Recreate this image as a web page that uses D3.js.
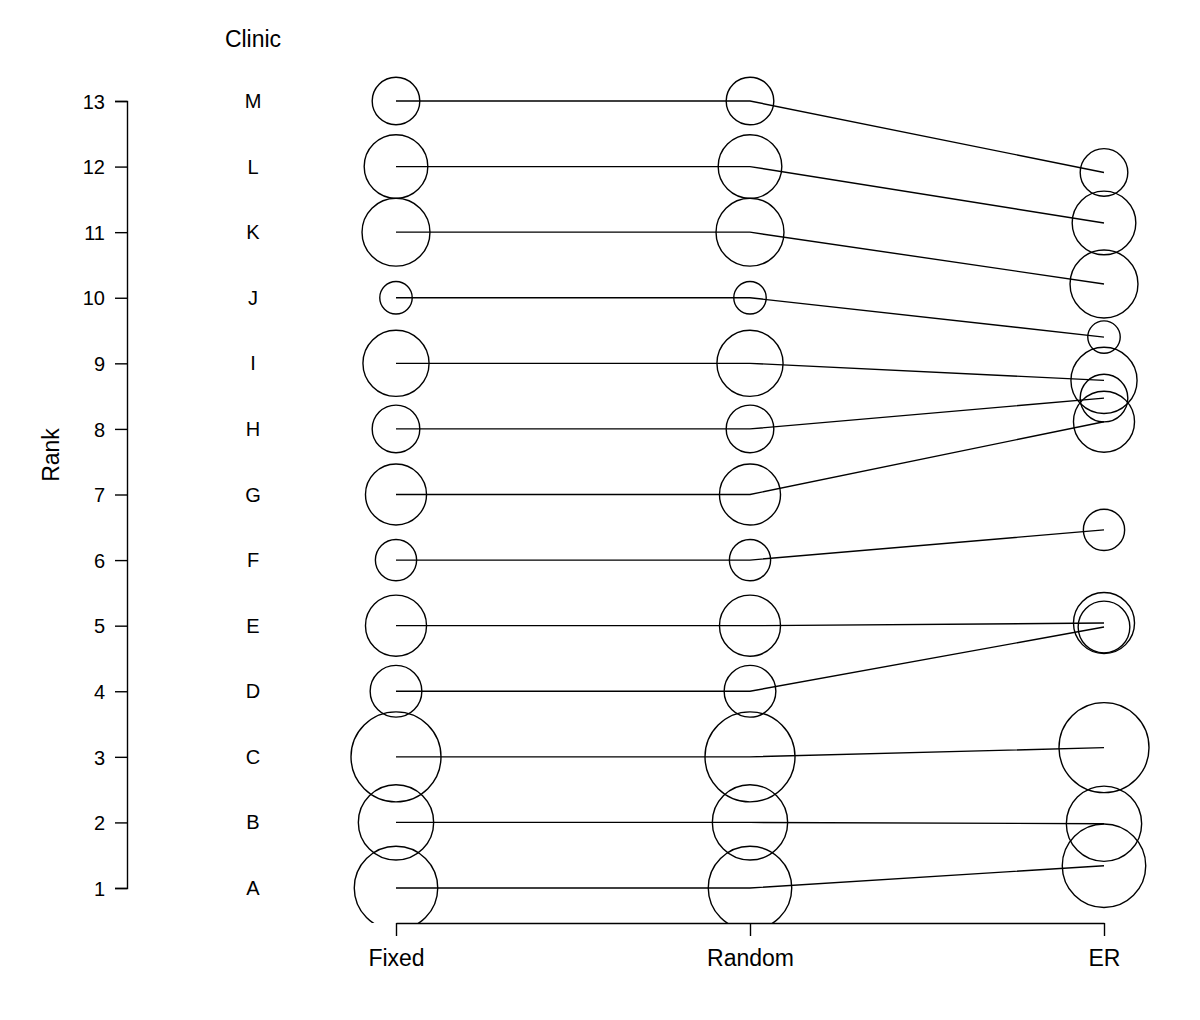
<!DOCTYPE html>
<html>
<head>
<meta charset="utf-8">
<script src="https://cdn.jsdelivr.net/npm/d3@7"></script>
<style>
  body { margin: 0; background: #fff; }
  text { font-family: "Liberation Sans", Arial, sans-serif; fill: #000; }
</style>
</head>
<body>
<div id="chart"></div>
<script>
// data
const clinics = ["A", "B", "C", "D", "E", "F", "G", "H", "I", "J", "K", "L", "M"]
const fixedRank = [1, 2, 3, 4, 5, 6, 7, 8, 9, 10, 11, 12, 13]
const randomRank = [1, 2, 3, 4, 5, 6, 7, 8, 9, 10, 11, 12, 13]
const erRank = [1.34, 1.98, 3.14, 4.98, 5.04, 6.46, 8.11, 8.47, 8.74, 9.40, 10.21, 11.14, 11.91]
const weight = [86, 70, 100, 33, 46, 21, 46, 28, 54, 13, 57, 50, 28]
const methods = ["Fixed", "Random", "ER"]
const rankTicks = d3.range(1, 14)

const W = 1200, H = 1020

const svg = d3.select("#chart").append("svg")
  .attr("width", W)
  .attr("height", H)

const x = d3.scalePoint().domain(methods).range([396, 1104])
const y = d3.scaleLinear().domain([1, 13]).range([888, 101])
const r = d3.scaleSqrt().domain([0, d3.max(weight)]).range([0, 45])

const rows = clinics.map((c, i) => ({
  clinic: c,
  ranks: [fixedRank[i], randomRank[i], erRank[i]],
  w: weight[i]
}))

// clip so the big circles stop at the bottom axis
svg.append("clipPath").attr("id", "plotclip")
  .append("rect").attr("x", 0).attr("y", 0).attr("width", W).attr("height", 923)

const plot = svg.append("g").attr("clip-path", "url(#plotclip)")

// connecting lines
const line = d3.line()
  .x((d, i) => x(methods[i]))
  .y(d => y(d))

plot.selectAll("path.link")
  .data(rows)
  .enter().append("path")
  .attr("class", "link")
  .attr("d", d => line(d.ranks))
  .attr("fill", "none")
  .attr("stroke", "#000")
  .attr("stroke-width", 1.4)

// circles
rows.forEach(row => {
  plot.selectAll(null)
    .data(row.ranks)
    .enter().append("circle")
    .attr("cx", (d, i) => x(methods[i]))
    .attr("cy", d => y(d))
    .attr("r", r(row.w))
    .attr("fill", "none")
    .attr("stroke", "#000")
    .attr("stroke-width", 1.4)
})

// left rank axis
const yAxis = svg.append("g")
  .attr("transform", "translate(127,0)")
  .call(d3.axisLeft(y).tickValues(rankTicks).tickFormat(d3.format("d")).tickSize(12).tickPadding(10))
yAxis.select(".domain").attr("stroke-width", 1.4)
yAxis.selectAll(".tick line").attr("stroke-width", 1.4)
yAxis.selectAll(".tick text")
  .attr("font-size", 20)
  .attr("font-family", "Liberation Sans, Arial, sans-serif")
  .attr("dy", "0.36em")

svg.append("text")
  .attr("transform", "translate(59,455) rotate(-90)")
  .attr("text-anchor", "middle")
  .attr("font-size", 23)
  .text("Rank")

// clinic labels
svg.append("text")
  .attr("x", 253).attr("y", 47)
  .attr("text-anchor", "middle")
  .attr("font-size", 23)
  .text("Clinic")

svg.selectAll("text.clinic")
  .data(rows)
  .enter().append("text")
  .attr("class", "clinic")
  .attr("x", 253)
  .attr("y", d => y(d.ranks[0]) + 7)
  .attr("text-anchor", "middle")
  .attr("font-size", 20)
  .text(d => d.clinic)

// bottom method axis
const xAxis = svg.append("g")
  .attr("transform", "translate(0,923)")
  .call(d3.axisBottom(x).tickSize(13).tickSizeOuter(0).tickPadding(14))
xAxis.select(".domain").attr("stroke-width", 1.4)
xAxis.selectAll(".tick line").attr("stroke-width", 1.4)
xAxis.selectAll(".tick text")
  .attr("font-size", 23)
  .attr("font-family", "Liberation Sans, Arial, sans-serif")
</script>
</body>
</html>
